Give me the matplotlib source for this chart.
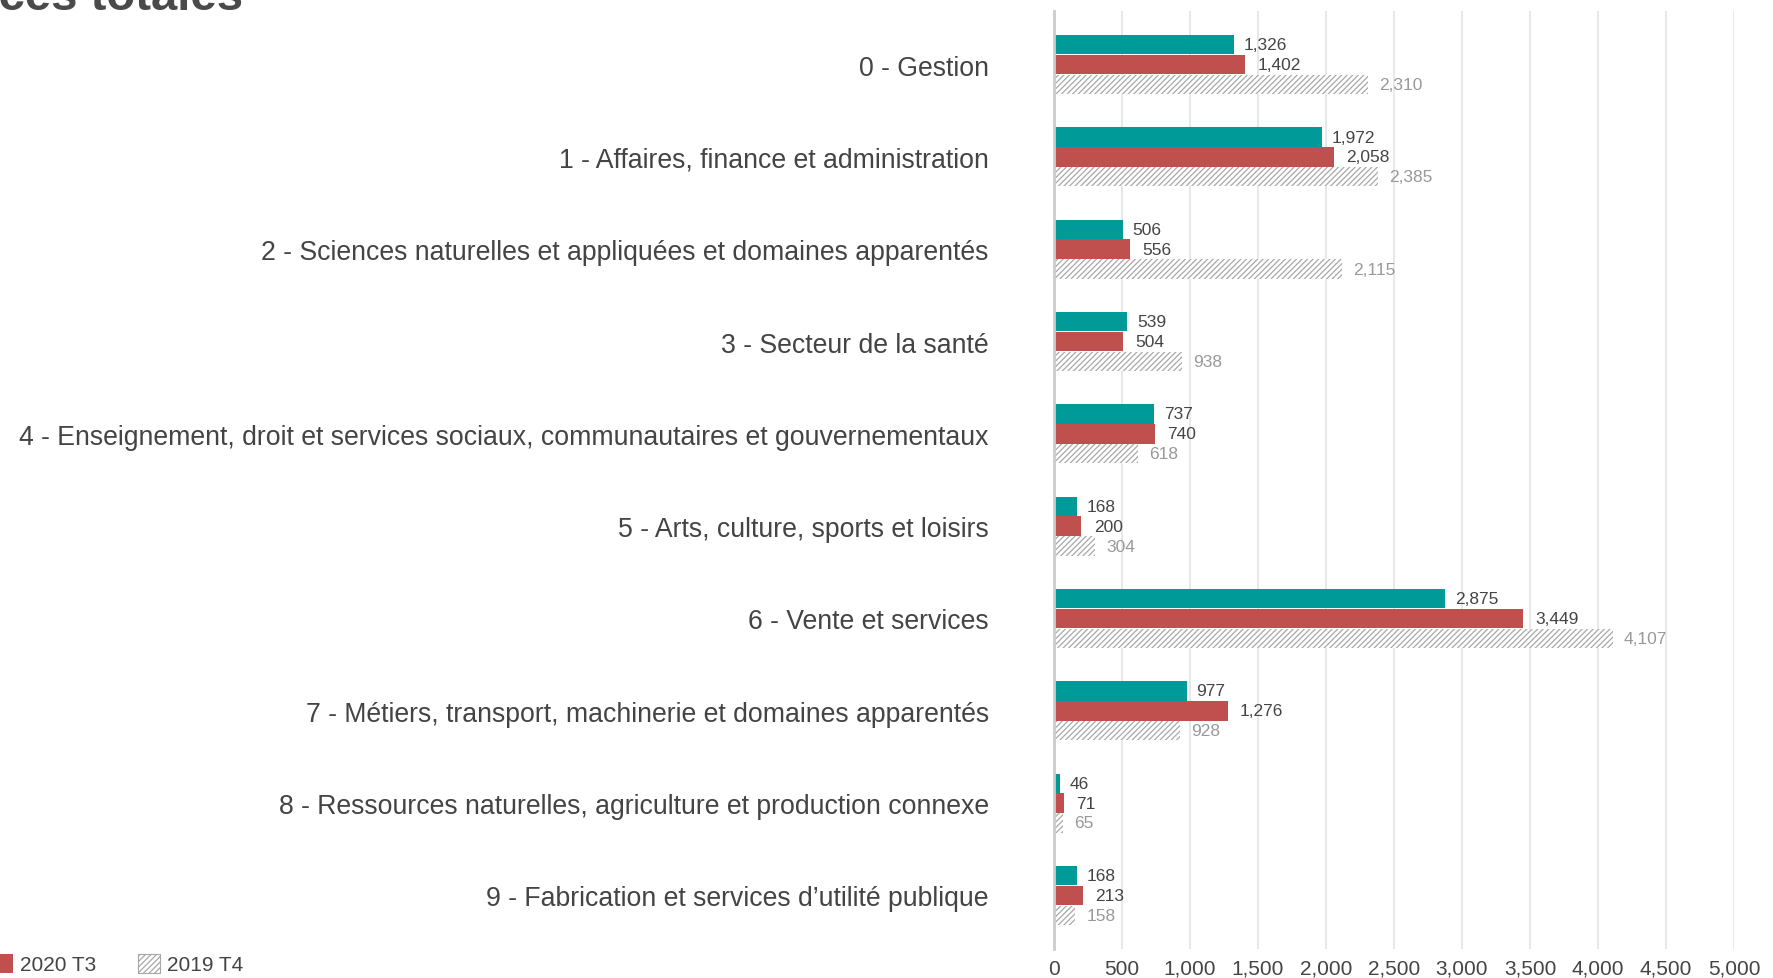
import numpy as np
import matplotlib.pyplot as plt
from matplotlib.ticker import FuncFormatter

plt.rcParams['font.family'] = ['Liberation Sans', 'DejaVu Sans']
plt.rcParams['hatch.linewidth'] = 0.9

# === données ===
categories = [
    "0 - Gestion",
    "1 - Affaires, finance et administration",
    "2 - Sciences naturelles et appliquées et domaines apparentés",
    "3 - Secteur de la santé",
    "4 - Enseignement, droit et services sociaux, communautaires et gouvernementaux",
    "5 - Arts, culture, sports et loisirs",
    "6 - Vente et services",
    "7 - Métiers, transport, machinerie et domaines apparentés",
    "8 - Ressources naturelles, agriculture et production connexe",
    "9 - Fabrication et services d\u2019utilité publique",
]
serie_2021 = [1326, 1972, 506, 539, 737, 168, 2875, 977, 46, 168]
serie_2020 = [1402, 2058, 556, 504, 740, 200, 3449, 1276, 71, 213]
serie_2019 = [2310, 2385, 2115, 938, 618, 304, 4107, 928, 65, 158]
labels_series = ["2021 T3", "2020 T3", "2019 T4"]
x_ticks = [0, 500, 1000, 1500, 2000, 2500, 3000, 3500, 4000, 4500, 5000]

teal = "#009a98"
rouge = "#c0504d"
gris_txt = "#444444"

W, H = 1773, 979
fig = plt.figure(figsize=(W / 100, H / 100), dpi=100)
ax = fig.add_axes([1054 / W, 1 - 950 / H, (1734 - 1054) / W, (950 - 12) / H])

y = np.arange(len(categories))
h = 0.21
b1 = ax.barh(y - 0.215, serie_2021, height=h, color=teal, label=labels_series[0], zorder=3)
b2 = ax.barh(y, serie_2020, height=h, color=rouge, label=labels_series[1], zorder=3)
b3 = ax.barh(y + 0.215, serie_2019, height=h, facecolor="white", edgecolor="#a8a8a8",
             hatch="//////", linewidth=0, label=labels_series[2], zorder=3)

fmt = lambda v: f"{v:,.0f}"
ax.bar_label(b1, labels=[fmt(v) for v in serie_2021], padding=7, fontsize=12.5, color=gris_txt)
ax.bar_label(b2, labels=[fmt(v) for v in serie_2020], padding=9, fontsize=12.5, color=gris_txt)
ax.bar_label(b3, labels=[fmt(v) for v in serie_2019], padding=8, fontsize=12.5, color="#999999")

ax.set_xlim(0, 5000)
ax.set_ylim(len(categories) - 0.42, -0.58)
ax.set_xticks(x_ticks)
ax.xaxis.set_major_formatter(FuncFormatter(lambda v, p: fmt(v)))
ax.set_yticks(y)
ax.set_yticklabels(categories)
ax.tick_params(axis="y", length=0, pad=47, labelsize=19.2, labelcolor=gris_txt)
ax.tick_params(axis="x", length=0, pad=7, labelsize=15, labelcolor=gris_txt)
ax.grid(axis="x", color="#e6e6e6", linewidth=1.3, zorder=0)
for s in ["top", "right", "bottom"]:
    ax.spines[s].set_visible(False)
ax.spines["left"].set_color("#cccccc")
ax.spines["left"].set_linewidth(2)
ax.spines["left"].set_zorder(4)

# titre (coupé en haut à gauche comme dans l'original)
fig.text(243 / W, 1 - 10 / H, "Vacances totales", ha="right", va="baseline",
         fontsize=34, fontweight="bold", color="#4a4a4a")

# légende en bas à gauche
leg = fig.legend(handles=[b1, b2, b3], loc="center left", bbox_to_anchor=(-156 / W, 1 - 965 / H),
                 ncol=3, frameon=False, fontsize=15, handlelength=1.05, handleheight=1.05,
                 handletextpad=0.35, columnspacing=2.0, borderpad=0, borderaxespad=0,
                 labelcolor=gris_txt)
leg.legend_handles[2].set_linewidth(0.8)

fig.savefig("out.png", dpi=100)
